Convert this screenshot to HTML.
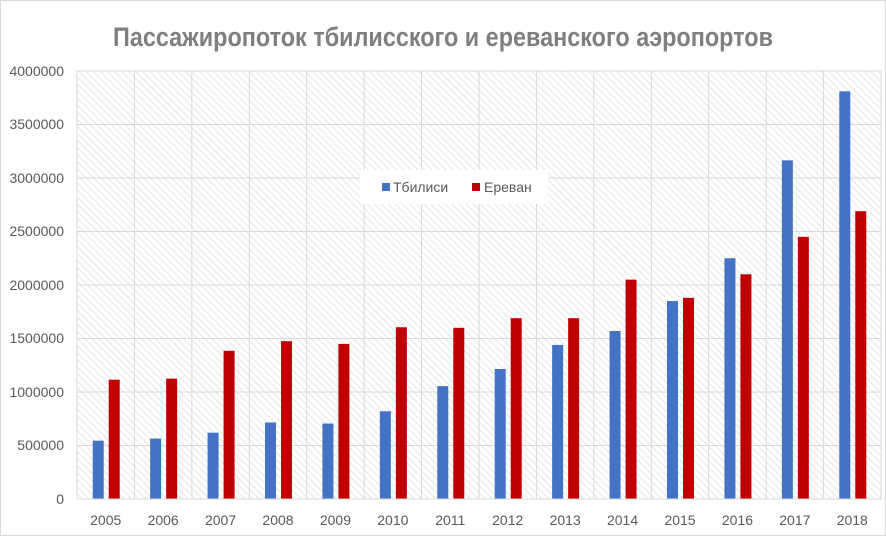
<!DOCTYPE html><html><head><meta charset="utf-8"><style>body{margin:0;background:#fff}svg{display:block}</style></head><body>
<svg width="886" height="536" xmlns="http://www.w3.org/2000/svg" font-family="Liberation Sans, DejaVu Sans, sans-serif">
<defs><pattern id="h" width="5" height="5" patternUnits="userSpaceOnUse" patternTransform="rotate(-45)"><rect width="5" height="5" fill="#fff"/><line x1="0" y1="0" x2="0" y2="5" stroke="#d6d6d6" stroke-width="1.2"/></pattern></defs>
<rect x="0.5" y="0.5" width="885" height="535" fill="#fff" stroke="#d9d9d9"/>
<text x="443" y="46" text-anchor="middle" font-size="27" font-weight="bold" fill="#7f7f7f" textLength="660" lengthAdjust="spacingAndGlyphs">Пассажиропоток тбилисского и ереванского аэропортов</text>
<rect x="77" y="71" width="804" height="428" fill="url(#h)"/>
<g stroke="#d9d9d9" stroke-width="1">
<line x1="77" x2="881" y1="71" y2="71"/><line x1="77" x2="881" y1="124.5" y2="124.5"/><line x1="77" x2="881" y1="178" y2="178"/><line x1="77" x2="881" y1="231.5" y2="231.5"/><line x1="77" x2="881" y1="285" y2="285"/><line x1="77" x2="881" y1="338.5" y2="338.5"/><line x1="77" x2="881" y1="392" y2="392"/><line x1="77" x2="881" y1="445.5" y2="445.5"/>
</g>
<g id="v" stroke="#d9d9d9"></g>
<g id="bars"></g>
<line x1="77" x2="881" y1="499" y2="499" stroke="#d9d9d9"/>
<g font-size="14" fill="#595959" text-anchor="end">
<text x="64" y="76">4000000</text><text x="64" y="129">3500000</text><text x="64" y="183">3000000</text><text x="64" y="236">2500000</text><text x="64" y="290">2000000</text><text x="64" y="343">1500000</text><text x="64" y="397">1000000</text><text x="64" y="450">500000</text><text x="64" y="504">0</text>
</g>
<g id="xl" font-size="14" fill="#595959" text-anchor="middle"></g>
<rect x="360" y="170" width="188" height="34" fill="#fff"/>
<rect x="382" y="183" width="8" height="8" fill="#4472c4"/><text x="393" y="192" font-size="14" fill="#595959">Тбилиси</text>
<rect x="472" y="183" width="8" height="8" fill="#c00000"/><text x="484" y="192" font-size="14" fill="#595959">Ереван</text>
<script>
var t=[545,565,620,715,705,820,1055,1215,1440,1570,1850,2250,3165,3810],e=[1115,1125,1385,1475,1450,1605,1600,1690,1690,2050,1880,2100,2450,2690];
var ns="http://www.w3.org/2000/svg",w=804/14,b=document.getElementById("bars"),v=document.getElementById("v"),xl=document.getElementById("xl");
function el(n,a,p){var o=document.createElementNS(ns,n);for(var k in a)o.setAttribute(k,a[k]);p.appendChild(o);return o}
for(var i=0;i<=14;i++){var x=77+i*w;el("line",{x1:x,x2:x,y1:71,y2:499},v)}
for(var i=0;i<14;i++){var c=77+w*(i+0.5);
var h1=t[i]*428/4000,h2=e[i]*428/4000;
el("rect",{x:c-13,y:499-h1,width:11,height:h1,fill:"#4472c4"},b);
el("rect",{x:c+3,y:499-h2,width:11,height:h2,fill:"#c00000"},b);
el("text",{x:c,y:525},xl).textContent=2005+i;}
</script>
</svg></body></html>
